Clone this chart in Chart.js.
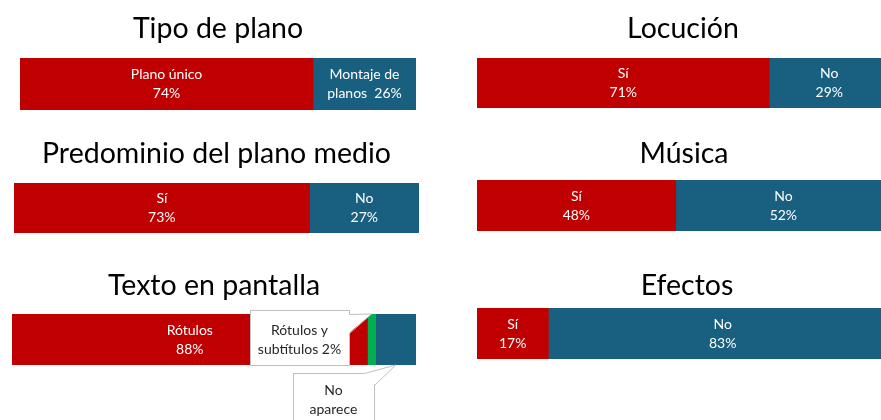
<!DOCTYPE html>
<html>
<head>
<meta charset="utf-8">
<script src="https://cdn.jsdelivr.net/npm/chart.js@4.4.0/dist/chart.umd.min.js"></script>
<style>
  body { margin: 0; background: #fff; width: 881px; height: 420px; overflow: hidden; position: relative; }
  canvas { position: absolute; }
</style>
</head>
<body>
<canvas id="g1"></canvas>
<canvas id="g2"></canvas>
<canvas id="g3"></canvas>
<canvas id="g4"></canvas>
<canvas id="g5"></canvas>
<canvas id="g6"></canvas>
<script>
// datos (el # se cambia por el valor)
const tipoPlanoValores = [74, 26];
const tipoPlanoLineas = [['Plano único', '#%'], ['Montaje de', 'planos  #%']];

const locucionValores = [71, 29];
const locucionLineas = [['Sí', '#%'], ['No', '#%']];

const planoMedioValores = [73, 27];
const planoMedioLineas = [['Sí', '#%'], ['No', '#%']];

const musicaValores = [48, 52];
const musicaLineas = [['Sí', '#%'], ['No', '#%']];

const textoValores = [88, 2, 10];
const textoLineas = [['Rótulos', '#%'], ['Rótulos y', 'subtítulos #%'], ['No', 'aparece', '#%']];

const efectosValores = [17, 83];
const efectosLineas = [['Sí', '#%'], ['No', '#%']];

const rojo = '#C00000';
const azul = '#185F80';
const verde = '#00B050';
const fuente = 'Lato, "Open Sans", sans-serif';
const tamTitulo = 28.5;

//etiquetas blancas dentro de cada tramo
const etiquetasInternas = {
  id: 'etiquetasInternas',
  afterDatasetsDraw(chart) {
    const ctx = chart.ctx;
    ctx.save();
    ctx.font = '14px ' + fuente;
    ctx.fillStyle = '#ffffff';
    ctx.textAlign = 'center';
    ctx.textBaseline = 'middle';
    chart.data.datasets.forEach((ds, i) => {
      if (!ds.interna) return;
      const barra = chart.getDatasetMeta(i).data[0];
      const cx = (barra.x + barra.base) / 2;
      const n = ds.lineas.length;
      ds.lineas.forEach((l, k) => {
        ctx.fillText(l.replace('#', ds.data[0]), cx, barra.y + (k - (n - 1) / 2) * 19);
      });
    });
    ctx.restore();
  }
};

//globos de texto para los tramos chicos
const globos = {
  id: 'globos',
  afterDatasetsDraw(chart, args, opts) {
    if (!opts.cajas) return;
    const ctx = chart.ctx;
    const area = chart.chartArea;
    opts.cajas.forEach(caja => {
      const ds = chart.data.datasets[caja.serie];
      const barra = chart.getDatasetMeta(caja.serie).data[0];
      const punta = { x: (barra.x + barra.base) / 2, y: caja.abajo ? area.bottom : area.top };
      ctx.save();
      ctx.fillStyle = '#ffffff';
      ctx.strokeStyle = '#bfbfbf';
      ctx.lineWidth = 1;
      ctx.fillRect(caja.x, caja.y, caja.w, caja.h);
      ctx.strokeRect(caja.x + 0.5, caja.y + 0.5, caja.w, caja.h);
      ctx.beginPath();
      ctx.moveTo(caja.p1[0], caja.p1[1]);
      ctx.lineTo(punta.x, punta.y);
      ctx.lineTo(caja.p2[0], caja.p2[1]);
      ctx.closePath();
      ctx.fill();
      ctx.beginPath();
      ctx.moveTo(caja.p1[0] + 0.5, caja.p1[1] + 0.5);
      ctx.lineTo(punta.x, punta.y);
      ctx.lineTo(caja.p2[0] + 0.5, caja.p2[1] + 0.5);
      ctx.stroke();
      ctx.font = '14px ' + fuente;
      ctx.fillStyle = '#262626';
      ctx.textAlign = 'center';
      ctx.textBaseline = 'middle';
      ds.lineas.forEach((l, k) => {
        ctx.fillText(l.replace('#', ds.data[0]), caja.x + caja.w / 2, caja.y + caja.primera + k * 19);
      });
      ctx.restore();
    });
  }
};

function construyeGrafico(id, pos, titulo, valores, lineas, colores, internas, cajas) {
  const canvas = document.getElementById(id);
  canvas.width = pos.ancho;
  canvas.height = pos.alto;
  canvas.style.left = pos.left + 'px';
  canvas.style.top = pos.top + 'px';

  const datasets = valores.map((v, i) => ({
    data: [v],
    backgroundColor: colores[i],
    borderWidth: 0,
    barPercentage: 1,
    categoryPercentage: 1,
    lineas: lineas[i],
    interna: internas[i]
  }));

  const altoTitulo = tamTitulo * 1.2;
  new Chart(canvas, {
    type: 'bar',
    data: { labels: [''], datasets: datasets },
    plugins: [etiquetasInternas, globos],
    options: {
      indexAxis: 'y',
      responsive: false,
      animation: false,
      layout: { padding: { bottom: pos.extraAbajo || 0 } },
      scales: {
        x: { display: false, stacked: true, min: 0, max: 100 },
        y: { display: false, stacked: true }
      },
      plugins: {
        legend: { display: false },
        tooltip: { enabled: false },
        title: {
          display: true,
          text: titulo,
          color: '#000000',
          font: { family: fuente, size: tamTitulo, weight: 'normal' },
          padding: { top: 11.9, bottom: pos.barTop - pos.top - 11.9 - altoTitulo }
        },
        globos: { cajas: cajas || null }
      }
    }
  });
}

construyeGrafico('g1', { left: 20, top: 0, ancho: 396, alto: 110, barTop: 58 },
  'Tipo de plano', tipoPlanoValores, tipoPlanoLineas, [rojo, azul], [true, true]);

construyeGrafico('g2', { left: 477, top: 0, ancho: 412, alto: 108, barTop: 58 },
  'Locución', locucionValores, locucionLineas, [rojo, azul], [true, true]);

construyeGrafico('g3', { left: 14, top: 125, ancho: 405, alto: 108, barTop: 183 },
  'Predominio del plano medio', planoMedioValores, planoMedioLineas, [rojo, azul], [true, true]);

construyeGrafico('g4', { left: 477, top: 125, ancho: 414, alto: 106, barTop: 180 },
  'Música', musicaValores, musicaLineas, [rojo, azul], [true, true]);

construyeGrafico('g5', { left: 12, top: 257, ancho: 404, alto: 163, barTop: 314, extraAbajo: 55 },
  'Texto en pantalla', textoValores, textoLineas, [rojo, verde, azul], [true, false, false],
  [
    { serie: 1, x: 238, y: 53, w: 99, h: 55, primera: 20, p1: [337, 57], p2: [337, 76] },
    { serie: 2, x: 281, y: 116, w: 81, h: 70, primera: 17, p1: [352, 116], p2: [362, 128], abajo: true }
  ]);

construyeGrafico('g6', { left: 477, top: 257, ancho: 420, alto: 102, barTop: 308 },
  'Efectos', efectosValores, efectosLineas, [rojo, azul], [true, true]);
</script>
</body>
</html>
